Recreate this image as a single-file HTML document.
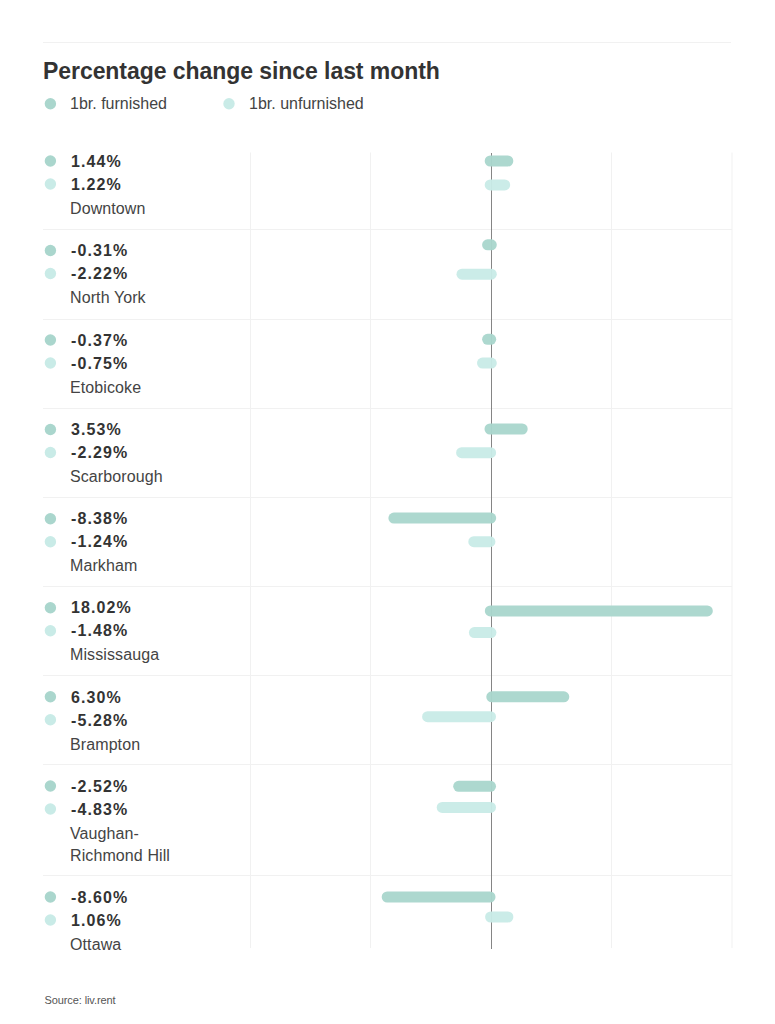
<!DOCTYPE html>
<html><head><meta charset="utf-8">
<style>
html,body{margin:0;padding:0;background:#fff;}
body{width:775px;height:1024px;position:relative;overflow:hidden;font-family:"Liberation Sans",sans-serif;color:#333333;}
svg{position:absolute;left:0;top:0;}
.t{position:absolute;left:43px;top:56px;font-size:23px;line-height:30px;font-weight:bold;white-space:nowrap;letter-spacing:-0.06px;}
.lg{position:absolute;top:92.5px;font-size:16px;line-height:22px;white-space:nowrap;color:#444;}
.v{position:absolute;left:71px;font-size:16px;line-height:23px;font-weight:bold;white-space:nowrap;letter-spacing:1.1px;}
.l{position:absolute;left:70px;font-size:16px;line-height:22px;white-space:nowrap;color:#444;letter-spacing:0.1px;}
.src{position:absolute;left:44.5px;top:992px;font-size:11px;line-height:16px;white-space:nowrap;color:#555;letter-spacing:-0.1px;}
</style></head><body>
<svg width="775" height="1024" viewBox="0 0 775 1024">
<line x1="250.5" y1="152.5" x2="250.5" y2="948" stroke="#f1f1f1" stroke-width="1"/>
<line x1="370.5" y1="152.5" x2="370.5" y2="948" stroke="#f1f1f1" stroke-width="1"/>
<line x1="611.5" y1="152.5" x2="611.5" y2="948" stroke="#f1f1f1" stroke-width="1"/>
<line x1="732" y1="152.5" x2="732" y2="948" stroke="#f1f1f1" stroke-width="1"/>
<line x1="43" y1="42.5" x2="731" y2="42.5" stroke="#f1f1f1" stroke-width="1"/>
<line x1="43" y1="229.5" x2="732" y2="229.5" stroke="#f1f1f1" stroke-width="1"/>
<line x1="43" y1="319.5" x2="732" y2="319.5" stroke="#f1f1f1" stroke-width="1"/>
<line x1="43" y1="408.5" x2="732" y2="408.5" stroke="#f1f1f1" stroke-width="1"/>
<line x1="43" y1="497.5" x2="732" y2="497.5" stroke="#f1f1f1" stroke-width="1"/>
<line x1="43" y1="586.5" x2="732" y2="586.5" stroke="#f1f1f1" stroke-width="1"/>
<line x1="43" y1="675.5" x2="732" y2="675.5" stroke="#f1f1f1" stroke-width="1"/>
<line x1="43" y1="764.5" x2="732" y2="764.5" stroke="#f1f1f1" stroke-width="1"/>
<line x1="43" y1="875.5" x2="732" y2="875.5" stroke="#f1f1f1" stroke-width="1"/>
<line x1="491.5" y1="153" x2="491.5" y2="949" stroke="#858585" stroke-width="1"/>
<rect x="484.7" y="155.5" width="28.599999999999966" height="11.0" rx="5.5" fill="#aad6cd" fill-opacity="0.96"/>
<rect x="484.7" y="179.4" width="25.5" height="11.0" rx="5.5" fill="#c9ebe7" fill-opacity="0.96"/>
<circle cx="50.4" cy="161.0" r="5.7" fill="#aad6cd"/>
<circle cx="50.4" cy="184.0" r="5.7" fill="#c9ebe7"/>
<rect x="482.1" y="239.3" width="14.699999999999989" height="11.0" rx="5.5" fill="#aad6cd" fill-opacity="0.96"/>
<rect x="456.5" y="268.7" width="40.30000000000001" height="11.0" rx="5.5" fill="#c9ebe7" fill-opacity="0.96"/>
<circle cx="50.4" cy="250.5" r="5.7" fill="#aad6cd"/>
<circle cx="50.4" cy="273.5" r="5.7" fill="#c9ebe7"/>
<rect x="482.1" y="333.8" width="14.099999999999966" height="11.0" rx="5.5" fill="#aad6cd" fill-opacity="0.96"/>
<rect x="477.0" y="357.6" width="19.80000000000001" height="11.0" rx="5.5" fill="#c9ebe7" fill-opacity="0.96"/>
<circle cx="50.4" cy="340.0" r="5.7" fill="#aad6cd"/>
<circle cx="50.4" cy="363.0" r="5.7" fill="#c9ebe7"/>
<rect x="484.5" y="423.5" width="43.200000000000045" height="11.0" rx="5.5" fill="#aad6cd" fill-opacity="0.96"/>
<rect x="456.1" y="447.2" width="40.0" height="11.0" rx="5.5" fill="#c9ebe7" fill-opacity="0.96"/>
<circle cx="50.4" cy="429.5" r="5.7" fill="#aad6cd"/>
<circle cx="50.4" cy="452.5" r="5.7" fill="#c9ebe7"/>
<rect x="388.4" y="512.6" width="107.80000000000001" height="11.0" rx="5.5" fill="#aad6cd" fill-opacity="0.96"/>
<rect x="468.3" y="536.2" width="27.099999999999966" height="11.0" rx="5.5" fill="#c9ebe7" fill-opacity="0.96"/>
<circle cx="50.4" cy="518.6999999999999" r="5.7" fill="#aad6cd"/>
<circle cx="50.4" cy="541.6999999999999" r="5.7" fill="#c9ebe7"/>
<rect x="484.8" y="605.4" width="227.99999999999994" height="11.0" rx="5.5" fill="#aad6cd" fill-opacity="0.96"/>
<rect x="468.9" y="627.1" width="27.5" height="11.0" rx="5.5" fill="#c9ebe7" fill-opacity="0.96"/>
<circle cx="50.4" cy="607.6999999999999" r="5.7" fill="#aad6cd"/>
<circle cx="50.4" cy="630.6999999999999" r="5.7" fill="#c9ebe7"/>
<rect x="486.3" y="691.3" width="82.99999999999994" height="11.0" rx="5.5" fill="#aad6cd" fill-opacity="0.96"/>
<rect x="422.1" y="711.2" width="73.89999999999998" height="11.0" rx="5.5" fill="#c9ebe7" fill-opacity="0.96"/>
<circle cx="50.4" cy="696.8" r="5.7" fill="#aad6cd"/>
<circle cx="50.4" cy="719.8" r="5.7" fill="#c9ebe7"/>
<rect x="453.2" y="780.8" width="42.80000000000001" height="11.0" rx="5.5" fill="#aad6cd" fill-opacity="0.96"/>
<rect x="436.7" y="801.9" width="59.30000000000001" height="11.0" rx="5.5" fill="#c9ebe7" fill-opacity="0.96"/>
<circle cx="50.4" cy="786.0" r="5.7" fill="#aad6cd"/>
<circle cx="50.4" cy="809.0" r="5.7" fill="#c9ebe7"/>
<rect x="381.7" y="891.5" width="113.80000000000001" height="11.0" rx="5.5" fill="#aad6cd" fill-opacity="0.96"/>
<rect x="485.1" y="911.5" width="28.299999999999955" height="11.0" rx="5.5" fill="#c9ebe7" fill-opacity="0.96"/>
<circle cx="50.4" cy="897.0" r="5.7" fill="#aad6cd"/>
<circle cx="50.4" cy="920.0" r="5.7" fill="#c9ebe7"/>
<circle cx="50.4" cy="103.8" r="5.7" fill="#aad6cd"/>
<circle cx="229" cy="103.8" r="5.7" fill="#c9ebe7"/>
</svg>
<div class="t">Percentage change since last month</div>
<div class="lg" style="left:70px">1br. furnished</div>
<div class="lg" style="left:249px">1br. unfurnished</div>
<div class="v" style="top:149.7px">1.44%</div>
<div class="v" style="top:172.7px">1.22%</div>
<div class="l" style="top:197.7px">Downtown</div>
<div class="v" style="top:239.2px">-0.31%</div>
<div class="v" style="top:262.2px">-2.22%</div>
<div class="l" style="top:287.2px">North York</div>
<div class="v" style="top:328.7px">-0.37%</div>
<div class="v" style="top:351.7px">-0.75%</div>
<div class="l" style="top:376.7px">Etobicoke</div>
<div class="v" style="top:418.2px">3.53%</div>
<div class="v" style="top:441.2px">-2.29%</div>
<div class="l" style="top:466.2px">Scarborough</div>
<div class="v" style="top:507.4px">-8.38%</div>
<div class="v" style="top:530.4px">-1.24%</div>
<div class="l" style="top:555.4px">Markham</div>
<div class="v" style="top:596.4px">18.02%</div>
<div class="v" style="top:619.4px">-1.48%</div>
<div class="l" style="top:644.4px">Mississauga</div>
<div class="v" style="top:685.5px">6.30%</div>
<div class="v" style="top:708.5px">-5.28%</div>
<div class="l" style="top:733.5px">Brampton</div>
<div class="v" style="top:774.7px">-2.52%</div>
<div class="v" style="top:797.7px">-4.83%</div>
<div class="l" style="top:822.7px">Vaughan-</div>
<div class="l" style="top:844.7px">Richmond Hill</div>
<div class="v" style="top:885.7px">-8.60%</div>
<div class="v" style="top:908.7px">1.06%</div>
<div class="l" style="top:933.7px">Ottawa</div>
<div class="src">Source: liv.rent</div>
</body></html>
